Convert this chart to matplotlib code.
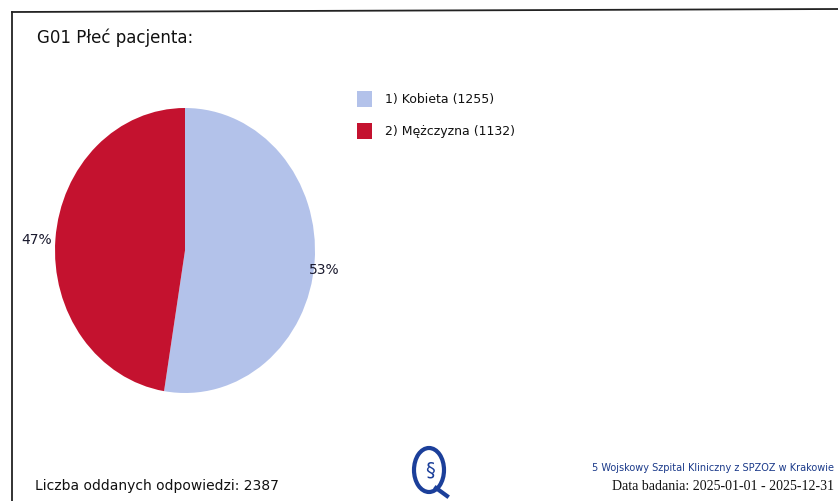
import matplotlib
matplotlib.use("Agg")
import matplotlib.pyplot as plt
from matplotlib.patches import Rectangle, Ellipse
from matplotlib.lines import Line2D

categories = ["1) Kobieta", "2) Mężczyzna"]
counts = [1255, 1132]
percent_labels = ["53%", "47%"]
colors = ["#b3c2ea", "#c4122f"]
title = "G01 Płeć pacjenta:"
total_text = "Liczba oddanych odpowiedzi: 2387"
hospital = "5 Wojskowy Szpital Kliniczny z SPZOZ w Krakowie"
date_text = "Data badania: 2025-01-01 - 2025-12-31"

W, H = 838, 501
fig = plt.figure(figsize=(W / 100, H / 100), dpi=100)
fig.patch.set_facecolor("white")

def fx(x):
    return x / W

def fy(y):
    return 1 - y / H

# frame (left and top edges only visible)
fig.add_artist(Line2D([fx(12), fx(12)], [fy(12), fy(501)], transform=fig.transFigure,
                      color="#222222", linewidth=1.3))
fig.add_artist(Line2D([fx(12), fx(838)], [fy(12), fy(9)], transform=fig.transFigure,
                      color="#222222", linewidth=1.3))

# pie
ax = fig.add_axes([fx(55), fy(393), fx(260), 285 / H])
wedges, _ = ax.pie(counts, colors=colors, startangle=90, counterclock=False,
                   wedgeprops=dict(linewidth=0))
ax.set_aspect("auto")
ax.set_xlim(-1, 1)
ax.set_ylim(-1, 1)
ax.axis("off")

# percentage labels
fig.text(fx(309), fy(270), percent_labels[0], fontsize=10, color="#1a1a2e", va="center", ha="left")
fig.text(fx(21), fy(240), percent_labels[1], fontsize=10, color="#1a1a2e", va="center", ha="left")

# title
fig.text(fx(37), fy(38), title, fontsize=12, color="#111111", va="center", ha="left")

# legend
for i, (cat, n) in enumerate(zip(categories, counts)):
    yc = 99 + i * 32
    fig.add_artist(Rectangle((fx(357), fy(yc + 8)), fx(15), 16 / H, transform=fig.transFigure,
                             facecolor=colors[i], edgecolor="none"))
    fig.text(fx(385), fy(yc), f"{cat} ({n})", fontsize=9, color="#111111", va="center", ha="left")

# footer
fig.text(fx(35), fy(486), total_text, fontsize=10, color="#111111", va="center", ha="left")
fig.text(fx(834), fy(468), hospital, fontsize=7, color="#1b3a8a", va="center", ha="right",
         family="Liberation Sans Narrow")
fig.text(fx(834), fy(486), date_text, fontsize=10, color="#111111", va="center", ha="right",
         family="Liberation Serif")

# logo
fig.add_artist(Ellipse((fx(429), fy(470)), fx(30), 44 / H, transform=fig.transFigure,
                       fill=False, edgecolor="#1b3f9a", linewidth=3))
fig.add_artist(Line2D([fx(436), fx(447)], [fy(488), fy(496)], transform=fig.transFigure,
                      color="#1b3f9a", linewidth=3))
fig.text(fx(430), fy(470), "§", fontsize=14, color="#1b3f9a", va="center", ha="center")

fig.savefig("out.png", dpi=100)
